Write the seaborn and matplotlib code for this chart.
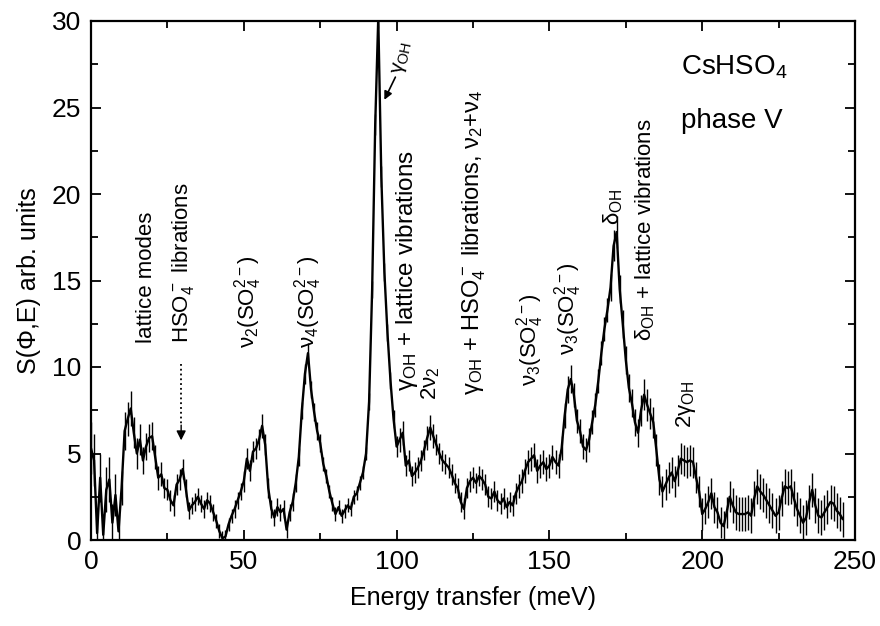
import matplotlib
matplotlib.use('Agg')
import matplotlib.pyplot as plt
import seaborn as sns
import pandas as pd
import numpy as np
from matplotlib.ticker import MultipleLocator

sns.set_theme(style='ticks')
plt.rcParams['font.family'] = ['Liberation Sans', 'DejaVu Sans']
plt.rcParams['mathtext.default'] = 'regular'
plt.rcParams['text.color'] = 'black'
plt.rcParams['axes.labelcolor'] = 'black'
plt.rcParams['xtick.color'] = 'black'
plt.rcParams['ytick.color'] = 'black'

# Energy transfer (meV), 1 meV steps
energy = list(range(0, 247))

# S(Phi,E)
intensity = [
    5.3, 4.6, 0.4, 3.6, 0.3, 2.9, 3.5, 1.0, 2.6, 0.5,
    3.0, 6.3, 7.0, 7.6, 6.2, 5.0, 5.8, 4.6, 5.4, 5.9,
    6.0, 4.8, 3.6, 3.8, 3.0, 2.9, 2.3, 2.0, 3.2, 3.5,
    4.1, 3.0, 1.7, 2.0, 2.2, 2.5, 2.1, 1.8, 2.3, 2.1,
    1.6, 1.1, 0.5, 0.1, 0.2, 0.9, 1.4, 1.8, 2.3, 2.8,
    3.4, 4.7, 4.0, 5.1, 5.3, 5.8, 6.6, 5.5, 3.0, 1.8,
    1.3, 1.9, 1.6, 1.8, 0.6, 1.6, 2.2, 3.3, 4.8, 7.5,
    9.6, 10.8, 8.7, 7.4, 6.3, 5.6, 4.4, 3.7, 2.8, 2.1,
    1.5, 1.9, 1.4, 1.7, 2.0, 1.8, 2.5, 2.7, 3.3, 3.9,
    5.0, 8.0, 14.5, 24.0, 30.2, 21.0, 15.5, 12.0, 9.2, 7.0,
    5.4, 5.8, 6.2, 4.3, 4.6, 3.7, 3.9, 4.2, 4.6, 5.2,
    5.9, 6.5, 6.0, 5.5, 5.0, 4.6, 4.4, 4.2, 3.8, 3.3,
    3.0, 2.2, 1.8, 3.0, 3.4, 3.6, 3.3, 3.7, 3.5, 3.2,
    2.5, 2.4, 2.8, 2.3, 2.1, 2.4, 1.9, 2.2, 2.0, 2.7,
    3.1, 3.4, 4.0, 4.5, 4.7, 4.9, 4.0, 4.3, 4.5, 4.1,
    4.3, 4.8, 4.5, 4.3, 5.3, 7.2, 8.7, 9.3, 8.4, 6.9,
    6.3, 5.4, 5.2, 5.8, 6.8, 7.8, 9.2, 10.8, 12.2, 13.3,
    14.6, 17.0, 17.8, 14.5, 12.5, 10.4, 8.8, 7.9, 6.8, 6.2,
    7.5, 8.4, 7.8, 7.3, 6.8, 5.2, 3.5, 2.8, 3.2, 3.6,
    3.9, 3.4, 4.0, 4.7, 4.6, 4.5, 4.6, 4.5, 3.6, 2.8,
    1.5, 1.8, 2.2, 2.7, 1.9, 1.6, 1.0, 0.8, 1.6, 2.5,
    2.0, 1.6, 1.5, 1.5, 1.5, 1.6, 1.4, 2.4, 3.1, 2.8,
    2.6, 2.3, 2.0, 1.7, 1.4, 1.6, 2.4, 3.1, 3.0, 3.1,
    2.4, 1.8, 1.4, 1.0, 1.3, 2.2, 2.9, 2.0, 1.4, 1.3,
    1.6, 1.9, 2.2, 2.1, 1.7, 1.5, 1.2,
]

# error bar half-lengths
error = [
    1.5, 1.5, 1.2, 1.4, 1.2, 1.3, 1.3, 1.1, 1.2, 1.0,
    1.0, 1.1, 1.0, 1.0, 0.9, 0.9, 0.9, 0.8, 0.8, 0.8,
    0.8, 0.7, 0.7, 0.7, 0.6, 0.6, 0.6, 0.6, 0.6, 0.6,
    0.6, 0.5, 0.5, 0.5, 0.5, 0.5, 0.5, 0.5, 0.5, 0.5,
    0.5, 0.4, 0.4, 0.4, 0.4, 0.4, 0.4, 0.5, 0.5, 0.5,
    0.6, 0.6, 0.6, 0.6, 0.6, 0.6, 0.7, 0.6, 0.6, 0.5,
    0.5, 0.5, 0.5, 0.5, 0.5, 0.5, 0.5, 0.5, 0.5, 0.5,
    0.6, 0.6, 0.5, 0.5, 0.5, 0.5, 0.4, 0.4, 0.4, 0.4,
    0.4, 0.4, 0.4, 0.4, 0.4, 0.4, 0.4, 0.4, 0.4, 0.4,
    0.4, 0.5, 0.5, 0.6, 0.6, 0.6, 0.5, 0.5, 0.5, 0.5,
    0.6, 0.7, 0.7, 0.6, 0.6, 0.6, 0.6, 0.6, 0.6, 0.6,
    0.7, 0.7, 0.7, 0.6, 0.6, 0.6, 0.6, 0.6, 0.6, 0.6,
    0.6, 0.6, 0.6, 0.6, 0.6, 0.6, 0.6, 0.6, 0.6, 0.6,
    0.6, 0.6, 0.6, 0.6, 0.6, 0.6, 0.6, 0.6, 0.6, 0.6,
    0.7, 0.7, 0.7, 0.7, 0.7, 0.7, 0.7, 0.7, 0.7, 0.7,
    0.7, 0.7, 0.7, 0.7, 0.7, 0.7, 0.8, 0.8, 0.7, 0.7,
    0.7, 0.7, 0.7, 0.7, 0.7, 0.7, 0.7, 0.7, 0.7, 0.7,
    0.8, 0.9, 0.9, 0.8, 0.8, 0.8, 0.8, 0.8, 0.8, 0.8,
    0.9, 0.9, 0.9, 0.9, 0.9, 0.9, 0.9, 0.9, 0.9, 0.9,
    0.9, 0.9, 0.9, 0.9, 0.9, 0.9, 0.9, 0.9, 0.9, 0.9,
    0.9, 0.9, 0.9, 0.9, 0.9, 0.9, 0.9, 0.9, 0.9, 0.9,
    1.0, 1.0, 1.0, 1.0, 1.0, 1.0, 1.0, 1.0, 1.0, 1.0,
    1.0, 1.0, 1.0, 1.0, 1.0, 1.0, 1.0, 1.0, 1.0, 1.0,
    1.0, 1.0, 1.0, 1.0, 1.0, 1.0, 1.0, 1.0, 1.0, 1.0,
    1.0, 1.0, 1.0, 1.0, 1.0, 1.0, 1.0,
]

df = pd.DataFrame({'E': energy, 'S': intensity, 'err': error})

fig = plt.figure(figsize=(8.8, 6.26), dpi=100)
ax = fig.add_axes([91/880, 1-540/626, (855-91)/880, (540-21)/626])

ax.vlines(df['E'], df['S'] - df['err'], df['S'] + df['err'], color='black', lw=1.0)
sns.lineplot(data=df, x='E', y='S', ax=ax, color='black', lw=1.7)

ax.set_xlim(0, 250)
ax.set_ylim(0, 30)
ax.xaxis.set_major_locator(MultipleLocator(50))
ax.xaxis.set_minor_locator(MultipleLocator(25))
ax.yaxis.set_major_locator(MultipleLocator(5))
ax.yaxis.set_minor_locator(MultipleLocator(2.5))
ax.tick_params(which='both', direction='in', top=True, right=True, width=1.3, colors='black')
ax.tick_params(which='major', length=7, labelsize=19, pad=7)
ax.tick_params(which='minor', length=5)
for s in ax.spines.values():
    s.set_linewidth(1.6)
    s.set_color('black')
ax.set_xlabel('Energy transfer (meV)', fontsize=18, labelpad=9)
ax.set_ylabel('S(Φ,E) arb. units', fontsize=18, labelpad=8)

fs = 16
kw = dict(rotation=90, ha='center', va='bottom', fontsize=fs, color='black')
ax.text(18, 11.4, 'lattice modes', **kw)
ax.text(30, 11.4, 'HSO$_4^-$ librations', **kw)
ax.plot([29.5, 29.5], [10.2, 6.6], ls=':', color='black', lw=1.3)
ax.annotate('', xy=(29.5, 5.6), xytext=(29.5, 6.8),
            arrowprops=dict(arrowstyle='-|>', color='black', lw=1.0, mutation_scale=14))
ax.text(51.4, 11.1, 'ν$_2$(SO$_4^{2-}$)', **kw)
ax.text(71.0, 11.1, 'ν$_4$(SO$_4^{2-}$)', **kw)
ax.text(101.8, 27.9, 'γ$_{OH}$', rotation=78, ha='center', va='center', fontsize=15, color='black')
ax.annotate('', xy=(95.6, 25.3), xytext=(100.0, 26.9),
            arrowprops=dict(arrowstyle='-|>', color='black', lw=1.2, mutation_scale=12))
ax.text(103.5, 8.6, 'γ$_{OH}$ + lattice vibrations', rotation=90, ha='center', va='bottom',
        fontsize=17.5, color='black')
ax.text(111.2, 8.1, '2ν$_2$', **kw)
ax.text(125.3, 8.4, 'γ$_{OH}$ + HSO$_4^-$ librations, ν$_2$+ν$_4$', rotation=90, ha='center',
        va='bottom', fontsize=17, color='black')
ax.text(143.8, 8.9, 'ν$_3$(SO$_4^{2-}$)', **kw)
ax.text(156.2, 10.7, 'ν$_3$(SO$_4^{2-}$)', **kw)
ax.text(170.8, 18.2, 'δ$_{OH}$', **kw)
ax.text(181.3, 11.5, 'δ$_{OH}$ + lattice vibrations', **kw)
ax.text(194.7, 6.5, '2γ$_{OH}$', **kw)
ax.text(193, 27.3, 'CsHSO$_4$', ha='left', va='center', fontsize=20)
ax.text(193, 24.2, 'phase V', ha='left', va='center', fontsize=20)

fig.savefig('out.png', dpi=100, facecolor='white')
